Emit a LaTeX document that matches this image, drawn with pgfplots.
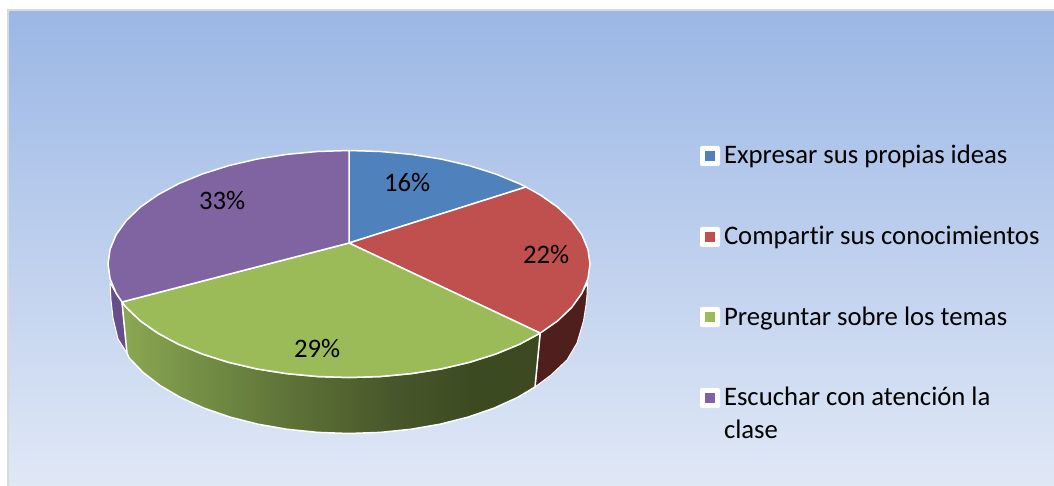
\documentclass[border=0pt]{standalone}
\usepackage{pgfplots}
\usepackage{fontspec}
\setmainfont[Ligatures=NoCommon]{Carlito}
\pgfplotsset{compat=1.18}
\definecolor{bluetop}{HTML}{4F81BD}
\definecolor{redtop}{HTML}{C0504D}
\definecolor{greentop}{HTML}{9BBB59}
\definecolor{purpletop}{HTML}{8064A2}
\definecolor{redside}{HTML}{4F1F1D}
\definecolor{purpleside}{HTML}{664E88}
\definecolor{bgtop}{HTML}{9BB7E5}
\definecolor{bgbot}{HTML}{E0E8F6}
\definecolor{frame}{HTML}{D9D9D9}
\pgfdeclarehorizontalshading{greenside}{100bp}{
  rgb(0bp)=(0.545,0.659,0.325);
  rgb(25bp)=(0.545,0.659,0.325);
  rgb(34bp)=(0.455,0.561,0.271);
  rgb(46bp)=(0.361,0.439,0.212);
  rgb(58bp)=(0.278,0.337,0.165);
  rgb(67bp)=(0.235,0.290,0.129);
  rgb(100bp)=(0.227,0.278,0.125)}
\tikzset{lab/.style={anchor=base west, inner sep=0pt, outer sep=0pt, text=black, font=\fontsize{26.7}{30}\selectfont}}
\begin{document}
\begin{tikzpicture}
\begin{axis}[
  scale only axis, width=1054pt, height=486pt,
  xmin=0, xmax=1054, ymin=0, ymax=486, y dir=reverse,
  hide axis,
]
% page and background
\addplot[fill=white, draw=none] coordinates {(0,0)(1054,0)(1054,486)(0,486)} -- cycle;
\addplot[fill=frame, draw=none] coordinates {(7,9)(1054,9)(1054,486)(7,486)} -- cycle;
\addplot[top color=bgtop, bottom color=bgbot, draw=none] coordinates {(9.5,11.5)(1054,11.5)(1054,486)(9.5,486)} -- cycle;
% side walls
\addplot[fill=purpleside, draw=white, line width=1pt, line join=round] coordinates {
 (110,283)(111,300)(113,318)(118,339)(127,353)(122,302)(116.2,293.4)} -- cycle;
\addplot[fill=redside, draw=white, line width=1pt, line join=round] coordinates {
 (540.2,333.1)(557.7,320.8)(571.7,307.4)(581.8,293.4)(587.5,283)(587,295)(586,305)(583.5,321)(577,343)(567,360)(551,375)(535,387)} -- cycle;
\addplot[shading=greenside, draw=white, line width=1.5pt, line join=round] coordinates {
 (122,302)(126.3,307.4)(140.3,320.8)(157.8,333.1)(178.6,344.3)(202.3,354)(228.5,362.3)(256.8,368.9)(286.6,373.6)(317.5,376.5)(349,377.5)
 (380.5,376.5)(411.4,373.6)(441.2,368.9)(469.5,362.3)(495.7,354)(519.4,344.3)(540.2,333.1)
 (535,387)(517.3,397.6)(493.9,408.2)(468,417.1)(440.1,424.2)(410.6,429.3)(380.1,432.4)(349,433.5)
 (317.9,432.4)(287.4,429.3)(257.9,424.2)(230,417.1)(204.1,408.2)(180.7,397.6)(160.2,385.6)(142.9,372.3)(129.1,357.9)(127,353)} -- cycle;
% top faces
\addplot[fill=bluetop, draw=white, line width=1.5pt, line join=round] coordinates {
 (349,243)(349,150.5)(380.5,151.5)(411.4,154.4)(441.2,159.1)(469.5,165.7)(495.7,174)(519.4,183.7)(526,187)} -- cycle;
\addplot[fill=redtop, draw=white, line width=1.5pt, line join=round] coordinates {
 (349,243)(526,187)(540.2,194.9)(557.7,207.2)(571.7,220.6)(581.8,234.6)(587.9,249.2)(590,264)(587.9,278.8)(581.8,293.4)(571.7,307.4)(557.7,320.8)(540.2,333.1)} -- cycle;
\addplot[fill=greentop, draw=white, line width=1.5pt, line join=round] coordinates {
 (349,243)(540.2,333.1)(519.4,344.3)(495.7,354)(469.5,362.3)(441.2,368.9)(411.4,373.6)(380.5,376.5)(349,377.5)
 (317.5,376.5)(286.6,373.6)(256.8,368.9)(228.5,362.3)(202.3,354)(178.6,344.3)(157.8,333.1)(140.3,320.8)(126.3,307.4)(122,302)} -- cycle;
\addplot[fill=purpletop, draw=white, line width=1.5pt, line join=round] coordinates {
 (349,243)(122,302)(116.2,293.4)(110.1,278.8)(108,264)(110.1,249.2)(116.2,234.6)(126.3,220.6)(140.3,207.2)(157.8,194.9)(178.6,183.7)(202.3,174)(228.5,165.7)(256.8,159.1)(286.6,154.4)(317.5,151.5)(349,150.5)} -- cycle;
% legend keys
\addplot[fill=white, draw=none, rounded corners=2pt] coordinates {(700,146)(720,146)(720,166)(700,166)} -- cycle;
\addplot[fill=bluetop, draw=none] coordinates {(705,151.5)(715,151.5)(715,161)(705,161)} -- cycle;
\addplot[fill=white, draw=none, rounded corners=2pt] coordinates {(700,227)(720,227)(720,247)(700,247)} -- cycle;
\addplot[fill=redtop, draw=none] coordinates {(705,232)(715,232)(715,242)(705,242)} -- cycle;
\addplot[fill=white, draw=none, rounded corners=2pt] coordinates {(700,307)(720,307)(720,327)(700,327)} -- cycle;
\addplot[fill=greentop, draw=none] coordinates {(705,312)(715,312)(715,322)(705,322)} -- cycle;
\addplot[fill=white, draw=none, rounded corners=2pt] coordinates {(700,388)(720,388)(720,408)(700,408)} -- cycle;
\addplot[fill=purpletop, draw=none] coordinates {(705,393)(715,393)(715,403)(705,403)} -- cycle;
% text
\node[lab] at (axis cs:724,164) {Expresar sus propias ideas};
\node[lab] at (axis cs:724,245) {Compartir sus conocimientos};
\node[lab] at (axis cs:724,325) {Preguntar sobre los temas};
\node[lab] at (axis cs:724,405) {Escuchar con atención la};
\node[lab] at (axis cs:724,438) {clase};
\node[lab] at (axis cs:384,192) {16\%};
\node[lab] at (axis cs:523,264) {22\%};
\node[lab] at (axis cs:294,357) {29\%};
\node[lab] at (axis cs:199,210) {33\%};
\end{axis}
\end{tikzpicture}
\end{document}
